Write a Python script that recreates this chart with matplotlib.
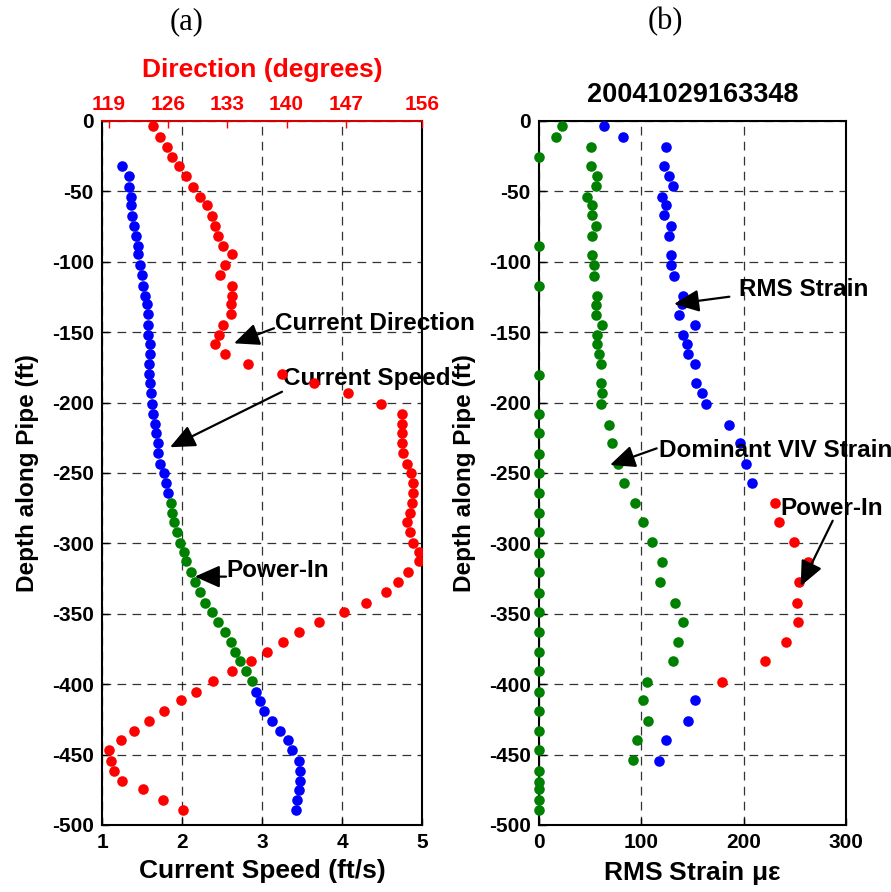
import matplotlib
matplotlib.use("Agg")
import matplotlib.pyplot as plt

plt.rcParams['font.family'] = ['Liberation Sans', 'DejaVu Sans']
plt.rcParams['font.weight'] = 'bold'
plt.rcParams['axes.unicode_minus'] = False

# ---------------- Panel (a) data ----------------
speed_depth_top = [-31.7, -38.8, -46.6, -53.8, -59.7, -67.2, -74.3, -81.7, -88.8, -94.7,
                   -102.3, -109.4, -117, -124, -130, -137.3, -144.9, -152, -158.4, -165.7,
                   -172.8, -179.9, -185.8, -193.4, -201, -208, -215.2, -221.8, -228.9, -236,
                   -243.8, -250.2, -256.9, -264.4]
speed_top = [1.25, 1.34, 1.34, 1.36, 1.36, 1.38, 1.40, 1.43, 1.45, 1.45,
             1.47, 1.50, 1.51, 1.54, 1.56, 1.57, 1.58, 1.58, 1.60, 1.60,
             1.59, 1.59, 1.60, 1.61, 1.63, 1.64, 1.66, 1.68, 1.70, 1.70,
             1.725, 1.77, 1.80, 1.82]

speed_depth_power = [-271.5, -278.6, -285, -292.1, -299.5, -306.3, -312.5, -320, -327.6, -334.7,
                     -342.1, -348.5, -355.6, -362.7, -369.8, -376.9, -383.3, -390.4, -397.7]
speed_power = [1.86, 1.87, 1.90, 1.94, 1.98, 2.03, 2.05, 2.11, 2.16, 2.22,
               2.29, 2.37, 2.45, 2.54, 2.61, 2.66, 2.73, 2.80, 2.88]

speed_depth_bot = [-405.3, -411.7, -418.8, -425.9, -433.2, -439.6, -446.7, -454.3, -461.6,
                   -468.5, -475.1, -482.2, -489.3]
speed_bot = [2.92, 2.97, 3.03, 3.12, 3.225, 3.32, 3.375, 3.46, 3.48, 3.48, 3.46, 3.44, 3.425]

dir_depth = [-3.6, -11.1, -18.2, -25.8, -32, -38.8, -46.6, -53.8, -59.7, -67.2,
             -74.3, -81.7, -88.8, -94.7, -102.3, -109.4, -117, -124, -130, -137.3,
             -144.9, -152, -158.4, -165.7, -172.8, -179.9, -185.8, -193.4, -201, -208,
             -215.2, -221.8, -228.9, -236, -243.8, -250.2, -256.9, -264.4, -271.5, -278.6,
             -285, -292.1, -299.5, -306.3, -312.5, -320, -327.6, -334.7, -342.1, -348.5,
             -355.6, -362.7, -369.8, -376.9, -383.3, -390.4, -397.7, -405.3, -411.2, -418.8,
             -425.9, -433.2, -439.6, -446.7, -454.3, -461.6, -468.5, -474.6, -482.2, -489.3]
direction = [124.26, 125.05, 125.91, 126.5, 127.3, 128.12, 128.91, 129.78, 130.57, 131.16,
             131.55, 131.94, 132.53, 133.59, 132.73, 132.14, 133.59, 133.59, 133.4, 133.4,
             132.53, 132.0, 131.55, 132.73, 135.41, 139.43, 143.24, 147.29, 151.16, 153.6,
             153.6, 153.6, 153.6, 153.79, 154.26, 154.66, 154.97, 154.97, 154.78, 154.58,
             154.19, 154.58, 154.97, 155.65, 155.65, 154.38, 153.2, 151.75, 149.35, 146.79,
             143.87, 141.43, 139.62, 137.65, 135.77, 133.59, 131.35, 129.3, 127.5, 125.52,
             123.79, 122.02, 120.41, 119.03, 119.23, 119.62, 120.6, 123.0, 125.44, 127.73]

dir_ticks = [119, 126, 133, 140, 147, 156]

# ---------------- Panel (b) data ----------------
viv_depth = [-3.6, -11.1, -18.2, -25.8, -32, -39.1, -46.2, -53.8, -59.7, -66.8,
             -74.3, -81.7, -88.8, -95.2, -102.3, -109.9, -117, -124.1, -130.7, -137.8,
             -144.9, -152, -158.4, -165.5, -172.8, -180.4, -186.3, -193.4, -201, -208.3,
             -215.9, -221.8, -228.9, -236.5, -243.8, -249.8, -256.9, -264.4, -271.5, -278.6,
             -285, -292.1, -299.2, -306.6, -313, -320.5, -327.6, -335, -342.1, -348.5,
             -355.6, -363.1, -370.3, -377.4, -383.5, -390.6, -398.2, -405.3, -411.2, -418.8,
             -425.9, -433.2, -439.6, -446.7, -453.8, -461.4, -469.2, -474.6, -482.2, -489.3]
viv_strain = [22.1, 16.6, 50.5, 0, 50.5, 57, 55.4, 46.6, 52.1, 52.1,
              55.4, 52.1, 0, 52.1, 53.7, 53.7, 0, 57, 55.4, 55.4,
              61.9, 57, 56.4, 58.6, 60.6, 0, 60.6, 61.9, 60.6, 0,
              68.7, 0, 71.6, 0, 76.9, 0, 83.1, 0, 93.8, 0,
              101.9, 0, 110.1, 0, 120.5, 0, 118.2, 0, 132.9, 0,
              141, 0, 135.5, 0, 130.6, 0, 105.8, 0, 101.9, 0,
              106.8, 0, 95.5, 0, 91.5, 0, 0, 0, 0, 0]

rms_depth = [-3.6, -11.1, -18.2, -32, -39.1, -46.2, -53.8, -59.7, -66.8, -74.3,
             -81.7, -95.2, -102.3, -109.9, -124.1, -130.2, -137.8, -144.9, -152, -158.4,
             -165.5, -172.8, -186.3, -193.4, -201, -215.9, -228.9, -243.3, -256.9,
             -411.2, -425.9, -439.6, -454.3]
rms_strain = [63.5, 81.8, 124.1, 122.2, 127, 130.6, 120.5, 123.8, 122.2, 128.7,
              127, 128.7, 128.7, 132.2, 140.4, 140.1, 137.1, 152.4, 141, 144.3,
              145.3, 152.4, 153.4, 159.6, 162.9, 186, 196.4, 202.3, 207.8,
              152.4, 145.3, 123.8, 117.3]

pin_depth = [-271.5, -285, -299.2, -313, -327.6, -342.1, -355.6, -370.3, -383.5, -398.2]
pin_strain = [230.6, 234.5, 249.5, 262.6, 254.1, 251.8, 252.8, 241.4, 220.9, 179.1]

# ---------------- Figure ----------------
W, H = 891, 892
fig = plt.figure(figsize=(W / 100, H / 100), dpi=100)

def frac(x0, y0, x1, y1):
    return [x0 / W, 1 - y1 / H, (x1 - x0) / W, (y1 - y0) / H]

BLUE = '#0000ff'
GREEN = '#008000'
RED = '#ff0000'
MS = 58
TICK_FS = 15
XLABEL_FS = 19
YLABEL_FS = 17.5
ANN_FS = 17.5

arrow_kw = dict(arrowstyle='-|>,head_length=0.9,head_width=0.4', mutation_scale=17,
                lw=1.6, color='black', shrinkA=0, shrinkB=0)

def style_axes(ax):
    ax.grid(True, color='black', linestyle=(0, (7, 5)), linewidth=0.9, alpha=0.8)
    ax.tick_params(direction='in', length=5, width=1, labelsize=TICK_FS, pad=6)
    for lab in ax.get_xticklabels() + ax.get_yticklabels():
        lab.set_fontweight('bold')
    for s in ax.spines.values():
        s.set_linewidth(1.5)

# ---- Panel (a) ----
ax1 = fig.add_axes(frac(102, 121, 422, 825))
ax1.scatter(speed_top, speed_depth_top, s=MS, color=BLUE, zorder=3, linewidths=0)
ax1.scatter(speed_power, speed_depth_power, s=MS, color=GREEN, zorder=3, linewidths=0)
ax1.scatter(speed_bot, speed_depth_bot, s=MS, color=BLUE, zorder=3, linewidths=0)
ax1.set_xlim(1, 5)
ax1.set_ylim(-500, 0)
ax1.set_xticks([1, 2, 3, 4, 5])
ax1.set_yticks(list(range(-500, 1, 50)))
style_axes(ax1)
ax1.set_xlabel('Current Speed (ft/s)', fontsize=XLABEL_FS, fontweight='bold', labelpad=5)
ax1.set_ylabel('Depth along Pipe (ft)', fontsize=YLABEL_FS, fontweight='bold', labelpad=9)

ax1t = ax1.twiny()
ax1t.scatter(direction, dir_depth, s=MS, color=RED, zorder=3, linewidths=0)
ax1t.set_xlim(118.2, 156)
ax1t.set_xticks(dir_ticks)
ax1t.tick_params(axis='x', direction='in', length=5, width=1, colors=RED,
                 labelsize=TICK_FS, pad=5)
for lab in ax1t.get_xticklabels():
    lab.set_fontweight('bold')
ax1t.spines['top'].set_color(RED)
ax1t.spines['top'].set_linewidth(1.2)
for k in ['left', 'right', 'bottom']:
    ax1t.spines[k].set_visible(False)
ax1t.set_xlabel('Direction (degrees)', fontsize=19, fontweight='bold',
                color=RED, labelpad=13)

ax1.text(3.16, -143.5, 'Current Direction', fontsize=ANN_FS, fontweight='bold',
         ha='left', va='center', zorder=5)
ax1.annotate('', xy=(2.65, -157.9), xytext=(3.15, -147.2), arrowprops=arrow_kw, zorder=5)
ax1.text(3.26, -183.2, 'Current Speed', fontsize=ANN_FS, fontweight='bold',
         ha='left', va='center', zorder=5)
ax1.annotate('', xy=(1.85, -231.7), xytext=(3.25, -192.3), arrowprops=arrow_kw, zorder=5)
ax1.text(2.56, -319.4, 'Power-In', fontsize=ANN_FS, fontweight='bold',
         ha='left', va='center', zorder=5)
ax1.annotate('', xy=(2.16, -323.6), xytext=(2.55, -323.6), arrowprops=arrow_kw, zorder=5)

fig.text(187 / W, 1 - 22 / H, '(a)', fontsize=22, family='Liberation Serif',
         fontweight='normal', ha='center', va='center')

# ---- Panel (b) ----
ax2 = fig.add_axes(frac(539, 121, 846, 825))
ax2.scatter(viv_strain, viv_depth, s=MS, color=GREEN, zorder=3, linewidths=0, clip_on=False)
ax2.scatter(rms_strain, rms_depth, s=MS, color=BLUE, zorder=3, linewidths=0)
ax2.scatter(pin_strain, pin_depth, s=MS, color=RED, zorder=3, linewidths=0)
ax2.set_xlim(0, 300)
ax2.set_ylim(-500, 0)
ax2.set_xticks([0, 100, 200, 300])
ax2.set_yticks(list(range(-500, 1, 50)))
style_axes(ax2)
ax2.set_xlabel('RMS Strain $\\mathregular{\\mu\\varepsilon}$', fontsize=XLABEL_FS,
               fontweight='bold', labelpad=5)
ax2.set_ylabel('Depth along Pipe (ft)', fontsize=YLABEL_FS, fontweight='bold', labelpad=9)
ax2.set_title('20041029163348', fontsize=19.5, fontweight='bold', pad=14)

ax2.text(195.7, -120, 'RMS Strain', fontsize=ANN_FS, fontweight='bold',
         ha='left', va='center', zorder=5)
ax2.annotate('', xy=(131.9, -130), xytext=(186, -124.8), arrowprops=arrow_kw, zorder=5)
ax2.text(117.6, -234.2, 'Dominant VIV Strain', fontsize=ANN_FS, fontweight='bold',
         ha='left', va='center', zorder=5)
ax2.annotate('', xy=(69.4, -244.3), xytext=(115, -232.5), arrowprops=arrow_kw, zorder=5)
ax2.text(235.5, -275.1, 'Power-In', fontsize=ANN_FS, fontweight='bold',
         ha='left', va='center', zorder=5)
ax2.annotate('', xy=(255.7, -330.3), xytext=(287, -283.9), arrowprops=arrow_kw, zorder=5)

fig.text(665 / W, 1 - 22 / H, '(b)', fontsize=22, family='Liberation Serif',
         fontweight='normal', ha='center', va='center')

fig.savefig('out.png', dpi=100)
